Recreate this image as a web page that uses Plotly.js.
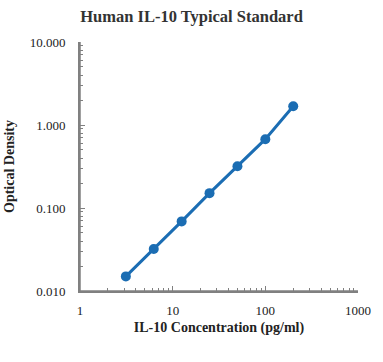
<!DOCTYPE html>
<html><head><meta charset="utf-8">
<script src="https://cdn.plot.ly/plotly-3.0.1.min.js"></script>
<style>html,body{margin:0;padding:0;background:#fff}#c{width:383px;height:362px}</style>
</head><body><div id="c"></div>
<script>
const concentration = [3.125, 6.25, 12.5, 25, 50, 100, 200];
const opticalDensity = [0.015, 0.032, 0.069, 0.151, 0.319, 0.675, 1.68];
const xTickVals = [1, 10, 100, 1000];
const xTickText = ['1', '10', '100', '1000'];
const yTickVals = [0.01, 0.1, 1, 10];
const yTickText = ['0.010', '0.100', '1.000', '10.000'];

const minorX = [], minorY = [];
for (const d of [1, 10, 100]) for (let k = 2; k <= 9; k++) minorX.push(k * d);
for (const d of [0.01, 0.1, 1]) for (let k = 2; k <= 9; k++) minorY.push(k * d);

const xMin = xTickVals[0], xMax = xTickVals[xTickVals.length - 1];
const yMin = yTickVals[0], yMax = yTickVals[yTickVals.length - 1];

const font = 'Liberation Serif, Times New Roman, serif';
const axisColor = '#808080';
Plotly.newPlot('c', [
  {x: [xMin, xMax], y: [yMin, yMin], type: 'scatter', mode: 'lines', cliponaxis: false,
   line: {color: axisColor, width: 1.5}, hoverinfo: 'none'},
  {x: [xMin, xMin], y: [yMin, yMax], type: 'scatter', mode: 'lines', cliponaxis: false,
   line: {color: axisColor, width: 1.5}, hoverinfo: 'none'},
  {x: concentration, y: opticalDensity, type: 'scatter', mode: 'lines+markers',
   line: {color: '#1b6db3', width: 3},
   marker: {color: '#1b6db3', size: 10},
   hoverinfo: 'none'}
], {
  width: 383, height: 362,
  margin: {l: 80, r: 25, t: 42, b: 71},
  paper_bgcolor: '#fff', plot_bgcolor: '#fff',
  showlegend: false,
  title: {text: '<b>Human IL-10 Typical Standard</b>', x: 0.5, xanchor: 'center', y: 0.955, yanchor: 'middle',
          font: {family: font, size: 16.5, color: '#333'}},
  xaxis: {type: 'log', range: [0, 3], tickvals: xTickVals, ticktext: xTickText,
    showgrid: false, zeroline: false, showline: true, linecolor: axisColor, linewidth: 2,
    ticks: 'inside', ticklen: 5, tickcolor: axisColor, tickwidth: 1, ticklabelstandoff: 6,
    minor: {tickmode: 'array', tickvals: minorX, ticks: 'inside', ticklen: 3, tickcolor: axisColor, tickwidth: 1, showgrid: false},
    tickfont: {family: font, size: 13, color: '#222'},
    title: {text: '<b>IL-10 Concentration (pg/ml)</b>', font: {family: font, size: 14, color: '#222'}, standoff: 6}},
  yaxis: {type: 'log', range: [-2, 1], tickvals: yTickVals, ticktext: yTickText,
    showgrid: false, zeroline: false, showline: true, linecolor: axisColor, linewidth: 2,
    ticks: 'inside', ticklen: 5, tickcolor: axisColor, tickwidth: 1, ticklabelstandoff: 10,
    minor: {tickmode: 'array', tickvals: minorY, ticks: 'inside', ticklen: 3, tickcolor: axisColor, tickwidth: 1, showgrid: false},
    tickfont: {family: font, size: 13, color: '#222'},
    title: {text: '<b>Optical Density</b>', font: {family: font, size: 14, color: '#222'}, standoff: 12}}
}, {staticPlot: true});
</script></body></html>
